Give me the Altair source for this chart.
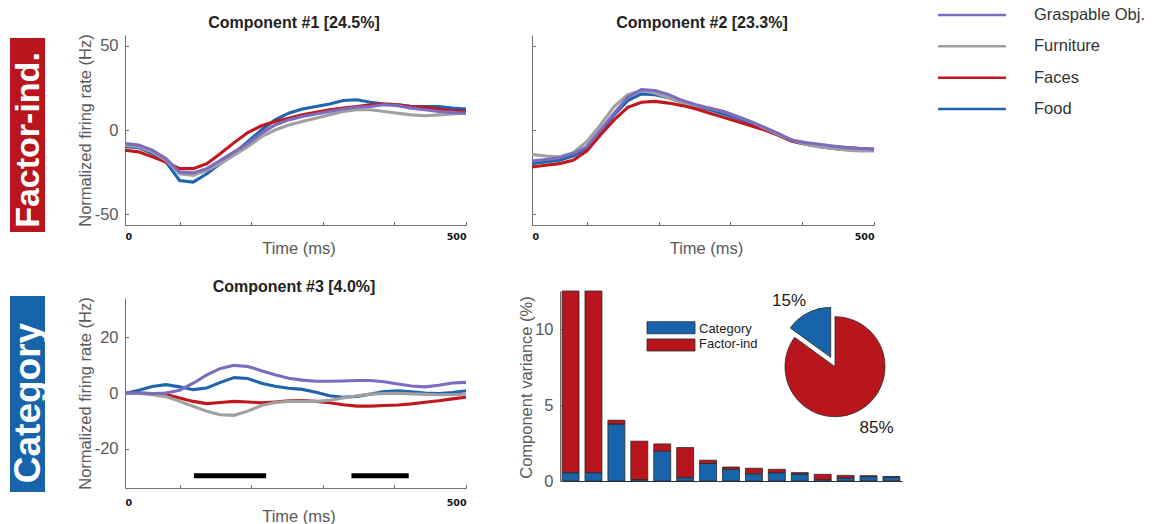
import math
import altair as alt
import pandas as pd

# ---------------------------------------------------------------- data
time_ms = [0, 20, 40, 60, 80, 100, 120, 140, 160, 180, 200, 220, 240,
           260, 280, 300, 320, 340, 360, 380, 400, 420, 440, 460, 480, 500]

categories = ["Graspable Obj.", "Furniture", "Faces", "Food"]
cat_colors = ["#7d6bbf", "#a0a0a0", "#c1171f", "#1f65ae"]

# Component #1 (factor-independent)
c1_food = [-10, -10.5, -14, -19, -30, -31, -26, -20, -14, -7, 0, 6, 10, 12.5, 14,
           15.5, 17.5, 18, 16.5, 15.5, 15, 14, 14, 14, 13, 12.5]
c1_faces = [-12, -13, -16, -19, -23, -23, -20, -14, -7.5, -1.5, 2.5, 5, 7, 9, 10.5,
            12, 13, 14, 15, 15.5, 15, 14, 13.5, 12.5, 11.5, 11]
c1_furniture = [-9, -10, -13, -18, -26, -27, -24, -20, -15, -10, -4, 0, 3, 5, 7,
                9, 11, 12, 12, 11, 10, 9, 8.5, 9, 9.5, 10]
c1_graspable = [-8, -9, -12, -17, -25, -25.5, -23, -18, -13, -8, -2, 3, 6, 8, 9.5,
                11, 12.5, 13.5, 14, 15, 14.5, 13, 12, 11, 10.5, 10]

# Component #2 (factor-independent)
c2_food = [-20, -19, -18, -15.5, -11, -1, 9, 17.5, 21.5, 21, 19, 16.5, 14, 12, 9.5,
           7, 4, 0.5, -3, -6.5, -8.5, -10, -11, -11.5, -11.5, -11.5]
c2_faces = [-22, -21, -20, -18, -12.5, -3, 6, 13.5, 16.5, 17, 16, 14.5, 12.5, 10, 7.5,
            5, 2.5, 0, -3, -6.5, -8.5, -9.5, -10, -10.5, -11, -11.5]
c2_furniture = [-14.5, -15.5, -16, -13.5, -7, 3, 14, 21, 23.5, 22, 19, 16.5, 14.5, 13, 11,
                8, 5, 1, -2.5, -6, -8.5, -10, -11, -12, -12.5, -12.5]
c2_graspable = [-18.5, -17.5, -16.5, -14, -10, 0, 10, 19.5, 24, 23.5, 21, 17.5, 15, 13, 11,
                8, 5, 1.5, -2, -6, -7.5, -8.5, -9.5, -10.5, -11, -11.5]

# Component #3 (category)
c3_food = [-0.2, 1, 2.3, 3, 2.2, 1.2, 1.8, 3.8, 5.5, 5.2, 3.5, 2.4, 1.7, 1.3, 0.3,
           -1, -1.5, -1.2, -0.4, 0.5, 0.8, 0.4, 0, -0.2, 0.2, 0.8]
c3_faces = [0, 0, -0.2, -0.5, -1.8, -3, -3.8, -3.4, -3, -3.2, -3.5, -3.2, -2.8, -2.7, -3,
            -3.5, -4.2, -4.7, -4.7, -4.5, -4.3, -3.9, -3.3, -2.8, -2.1, -1.5]
c3_furniture = [0, -0.2, -0.6, -1.3, -3, -4.8, -6.5, -7.8, -8, -6.5, -4.5, -3.4, -3, -3, -3,
                -2.6, -1.8, -1, -0.4, -0.2, -0.1, -0.3, -0.5, -0.6, -0.6, -0.4]
c3_graspable = [0, 0, -0.2, 0, 1, 3.5, 6.5, 8.8, 9.9, 9.5, 8, 6.5, 5.3, 4.6, 4.2,
                4.2, 4.3, 4.5, 4.5, 4, 3.2, 2.5, 2.2, 2.8, 3.6, 3.8]

# significant category-selectivity windows (ms)
sig_start = [101, 332]
sig_end = [207, 416]
sig_level = -29.6

# variance explained per component, split by type (%)
component_idx = list(range(1, 16))
var_category = [0.55, 0.55, 3.75, 0.10, 1.96, 0.22, 1.15, 0.77, 0.48, 0.55,
                0.46, 0.09, 0.20, 0.29, 0.26]
var_factor = [23.95, 22.75, 0.25, 2.52, 0.48, 1.98, 0.22, 0.15, 0.36, 0.22,
              0.09, 0.35, 0.17, 0.06, 0.03]

pie_parts = ["Factor-ind", "Category"]
pie_share = [85, 15]

# ---------------------------------------------------------------- style
W, H = 1157, 524
FONT = "Liberation Sans"
TICK_FONT = "DejaVu Sans"
BLUE = "#1864ab"
RED = "#b8151d"
AXIS_GRAY = "#707070"
TEXT_GRAY = "#595959"

stroke_scale = alt.Scale(domain=categories, range=cat_colors)
fill_scale = alt.Scale(domain=["Category", "Factor-ind"], range=[BLUE, RED])
theta_scale = alt.Scale(domain=[0, 100], range=[0, 2 * math.pi])


def long_frame(series):
    rows = []
    # drawing order: purple ends up on top
    for cat in ["Food", "Faces", "Furniture", "Graspable Obj."]:
        for t, v in zip(time_ms, series[cat]):
            rows.append({"time": t, "rate": v, "cat": cat})
    return pd.DataFrame(rows)


def x_axis(axis_y, title_x, label_gap, title_gap):
    tick = 3.5
    return alt.Axis(
        orient="top", offset=-axis_y, values=[0, 80, 185, 290, 395, 500],
        grid=False, tickSize=tick, tickColor=AXIS_GRAY, domainColor=AXIS_GRAY,
        labelExpr="datum.value == 0 || datum.value == 500 ? datum.value + '' : ''",
        labelFlush=True, labelBaseline="top", labelPadding=-(tick + label_gap),
        labelFont=TICK_FONT, labelFontWeight="bold", labelFontSize=9.5, labelColor="#111",
        title="Time (ms)", titleX=title_x, titleY=title_gap, titleAlign="center",
        titleBaseline="middle", titleFont=FONT, titleFontSize=16.5,
        titleFontWeight="normal", titleColor=TEXT_GRAY,
    )


def y_axis(axis_x, values, title_y, show_labels=True, title="Normalized firing rate (Hz)",
           title_x=85):
    tick = 3.5
    return alt.Axis(
        orient="right", offset=axis_x - W, values=values, grid=False,
        tickSize=tick, tickColor=AXIS_GRAY, domainColor=AXIS_GRAY,
        labels=show_labels, labelAlign="right", labelBaseline="middle",
        labelPadding=-(tick + 7), labelExpr="datum.value + ''",
        labelFont=FONT, labelFontSize=16.5, labelColor=TEXT_GRAY,
        title=title if show_labels else "", titleAngle=270, titleX=title_x - axis_x,
        titleY=title_y, titleAlign="center", titleBaseline="middle",
        titleFont=FONT, titleFontSize=16.5, titleFontWeight="normal", titleColor=TEXT_GRAY,
    )


def line_panel(series, x_rng, y_rng, y_dom, xaxis, yaxis):
    return alt.Chart(long_frame(series)).mark_line(strokeWidth=3.1).encode(
        x=alt.X("time:Q", scale=alt.Scale(domain=[0, 500], range=x_rng, nice=False, zero=False),
                axis=xaxis),
        y=alt.Y("rate:Q", scale=alt.Scale(domain=y_dom, range=y_rng, nice=False, zero=False),
                axis=yaxis),
        stroke=alt.Stroke("cat:N", scale=stroke_scale, legend=None),
        detail="cat:N",
    )


def text_at(txt, x, y, **kw):
    return alt.Chart(pd.DataFrame({"t": [txt]})).mark_text(**kw).encode(
        text="t:N", x=alt.value(x), y=alt.value(y))


# ---------------------------------------------------------------- line panels
p1 = line_panel(
    {"Food": c1_food, "Faces": c1_faces, "Furniture": c1_furniture, "Graspable Obj.": c1_graspable},
    [125, 466], [225, 35], [-56.5, 56.5],
    x_axis(225, 298.5, 6, 23), y_axis(125, [-50, 0, 50], 130))

p2 = line_panel(
    {"Food": c2_food, "Faces": c2_faces, "Furniture": c2_furniture, "Graspable Obj.": c2_graspable},
    [532, 874], [225, 35], [-56.5, 56.5],
    x_axis(225, 706, 6, 23), y_axis(532, [-50, 0, 50], 130, show_labels=False))

p3 = line_panel(
    {"Food": c3_food, "Faces": c3_faces, "Furniture": c3_furniture, "Graspable Obj.": c3_graspable},
    [125, 466], [488, 298], [-34, 34],
    x_axis(488, 298.5, 9, 28.5), y_axis(125, [-20, 0, 20], 393))

sig = alt.Chart(pd.DataFrame({"start": sig_start, "end": sig_end, "level": [sig_level] * 2})).mark_rule(
    color="black", strokeWidth=5).encode(
    x=alt.X("start:Q", scale=alt.Scale(domain=[0, 500], range=[125, 466], nice=False, zero=False), axis=None),
    x2="end:Q",
    y=alt.Y("level:Q", scale=alt.Scale(domain=[-34, 34], range=[488, 298], nice=False, zero=False), axis=None),
)

# ---------------------------------------------------------------- variance bars
bar_rows = []
for i, c, f in zip(component_idx, var_category, var_factor):
    bar_rows.append({"comp": i, "part": "Category", "value": c})
    bar_rows.append({"comp": i, "part": "Factor-ind", "value": f})
bars = alt.Chart(pd.DataFrame(bar_rows)).transform_calculate(
    rank="datum.part == 'Category' ? 0 : 1"
).mark_bar(stroke="#2a2a2a", strokeWidth=0.8).encode(
    x=alt.X("comp:O", scale=alt.Scale(range=[560, 902], paddingInner=0.26, paddingOuter=0.09),
            axis=alt.Axis(orient="bottom", offset=481 - H, ticks=False, labels=False,
                          domainColor="#333", domainWidth=1.2, title="", grid=False)),
    y=alt.Y("value:Q", stack="zero",
            scale=alt.Scale(domain=[0, 12.5], range=[481, 291], clamp=True, nice=False),
            axis=y_axis(560, [0, 5, 10], 387, title="Component variance (%)", title_x=526)),
    fill=alt.Fill("part:N", scale=fill_scale, legend=None),
    order=alt.Order("rank:Q"),
)

legend_bar = alt.Chart(pd.DataFrame({"part": ["Category", "Factor-ind"]})).mark_rect(
    stroke="#2a2a2a", strokeWidth=0.8).encode(
    x=alt.value(647), x2=alt.value(695),
    y=alt.Y("part:N", scale=alt.Scale(domain=["Category", "Factor-ind"], range=[321.7, 351],
                                      paddingInner=0.3, paddingOuter=0), axis=None),
    fill=alt.Fill("part:N", scale=fill_scale, legend=None),
)
legend_bar_text = alt.Chart(pd.DataFrame({"part": ["Category", "Factor-ind"]})).mark_text(
    align="left", baseline="middle", font=FONT, fontSize=13, color="#222").encode(
    x=alt.value(699),
    y=alt.Y("part:N", bandPosition=0.5,
            scale=alt.Scale(domain=["Category", "Factor-ind"], range=[321.7, 351],
                            paddingInner=0.3, paddingOuter=0), axis=None),
    text="part:N",
)

# ---------------------------------------------------------------- pie (exploded category slice)
pie_base = alt.Chart(pd.DataFrame({"part": pie_parts, "share": pie_share})).transform_window(
    cum="sum(share)").transform_calculate(start="datum.cum - datum.share")


def pie_slice(part, cx, cy):
    return pie_base.transform_filter(f"datum.part == '{part}'").mark_arc(
        outerRadius=50, stroke="#2a2a2a", strokeWidth=0.8).encode(
        theta=alt.Theta("start:Q", scale=theta_scale),
        theta2="cum:Q",
        fill=alt.Fill("part:N", scale=fill_scale, legend=None),
        x=alt.value(cx), y=alt.value(cy),
    )


pie_red = pie_slice("Factor-ind", 835, 366.7)
pie_blue = pie_slice("Category", 830.7, 357.3)

# ---------------------------------------------------------------- line legend
leg_scale = alt.Scale(type="point", domain=categories, range=[15, 109], padding=0)
legend_lines = alt.Chart(pd.DataFrame({"cat": categories})).mark_rule(strokeWidth=2.5).encode(
    x=alt.value(938), x2=alt.value(1006),
    y=alt.Y("cat:N", scale=leg_scale, axis=None),
    stroke=alt.Stroke("cat:N", scale=stroke_scale, legend=None),
)
legend_text = alt.Chart(pd.DataFrame({"cat": categories})).mark_text(
    align="left", baseline="middle", font=FONT, fontSize=16.5, color="#333").encode(
    x=alt.value(1034),
    y=alt.Y("cat:N", scale=leg_scale, axis=None),
    text="cat:N",
)

# ---------------------------------------------------------------- titles and row labels
title_kw = dict(font=FONT, fontSize=16, fontWeight="bold", color="#222",
                align="center", baseline="middle")
titles = [
    text_at("Component #1 [24.5%]", 294, 23, **title_kw),
    text_at("Component #2 [23.3%]", 702, 23, **title_kw),
    text_at("Component #3 [4.0%]", 294, 287, **title_kw),
]
pct_kw = dict(font=FONT, fontSize=17, color="#222", align="center", baseline="middle")
pct = [text_at("15%", 789, 301, **pct_kw), text_at("85%", 876.5, 427.5, **pct_kw)]

row_boxes = [
    alt.Chart(pd.DataFrame({"k": [0]})).mark_rect(color=RED).encode(
        x=alt.value(10), x2=alt.value(45), y=alt.value(38), y2=alt.value(232)),
    alt.Chart(pd.DataFrame({"k": [0]})).mark_rect(color=BLUE).encode(
        x=alt.value(10), x2=alt.value(45), y=alt.value(296), y2=alt.value(492)),
]
row_kw = dict(font=FONT, fontWeight="bold", color="white", angle=270,
              align="center", baseline="middle")
row_labels = [
    text_at("Factor-ind.", 29, 140, fontSize=34, **row_kw),
    text_at("Category", 29, 403, fontSize=37, **row_kw),
]

chart = alt.layer(
    *row_boxes, *row_labels,
    p1, p2, p3, sig,
    bars, legend_bar, legend_bar_text,
    pie_red, pie_blue, *pct,
    legend_lines, legend_text,
    *titles,
).resolve_scale(
    x="independent", y="independent"
).properties(
    width=W, height=H, padding=0,
    autosize=alt.AutoSizeParams(type="none"),
    background="white",
).configure_view(stroke=None)

chart.save("out.html", embed_options={"renderer": "svg", "actions": False})
